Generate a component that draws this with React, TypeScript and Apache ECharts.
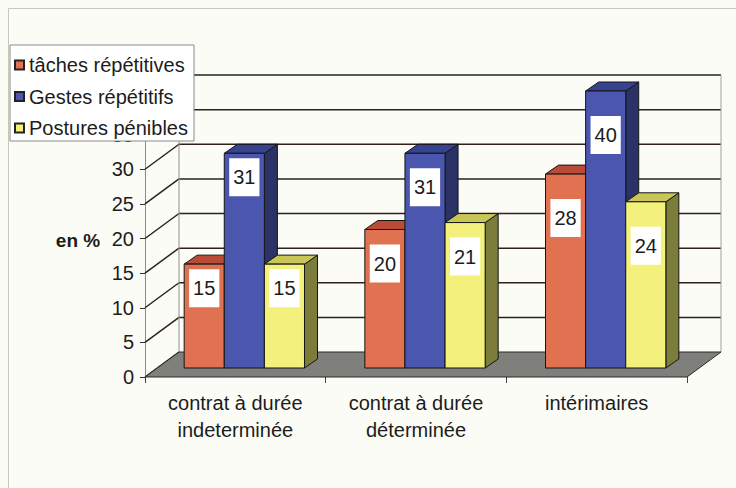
import React, { useEffect, useRef } from "react";
import * as echarts from "echarts";

const categories = ["contrat à durée\nindeterminée", "contrat à durée\ndéterminée", "intérimaires"];
const seriesNames = ["tâches répétitives", "Gestes répétitifs", "Postures pénibles"];
const tachesRepetitives = [15, 20, 28];
const gestesRepetitifs = [31, 31, 40];
const posturesPenibles = [15, 21, 24];
const yTicks = [0, 5, 10, 15, 20, 25, 30, 35, 40];

const FONT = "'Liberation Sans', Arial, sans-serif";
const TEXT = "#1c1c1c";
const GRID_COLOR = "#2e211c";
const WALL_DX = 34;
const WALL_DY = -25;
const BAR_DX = 9;
const BAR_DY = -9;
const DEPTH_DX = 13;
const DEPTH_DY = -9;
const BAR_FRAC = 0.222;
const LABEL_BASE = 24;
const LABEL_STEP = 10;

const palettes = [
  { front: "#e07252", top: "#b94b37", side: "#8a3525" },
  { front: "#4b56ae", top: "#38438f", side: "#2b3266" },
  { front: "#f3f17c", top: "#c8c657", side: "#7c7c3b" },
];

const makeBarRender = (s: number) => (params: any, api: any) => {
  const cat = api.value(0);
  const v = api.value(1);
  const base = api.coord([cat, 0]);
  const topP = api.coord([cat, v]);
  const band = api.size([1, 0])[0];
  const bw = band * BAR_FRAC;
  const left = base[0] + BAR_DX - 1.5 * bw + s * bw;
  const right = left + bw;
  const yb = base[1] + BAR_DY;
  const yt = topP[1] + BAR_DY;
  const pal = palettes[s];
  const st = { stroke: "#151515", lineWidth: 1 };
  return {
    type: "group",
    children: [
      {
        type: "polygon",
        shape: { points: [[right, yb], [right + DEPTH_DX, yb + DEPTH_DY], [right + DEPTH_DX, yt + DEPTH_DY], [right, yt]] },
        style: { fill: pal.side, ...st },
      },
      {
        type: "polygon",
        shape: { points: [[left, yt], [left + DEPTH_DX, yt + DEPTH_DY], [right + DEPTH_DX, yt + DEPTH_DY], [right, yt]] },
        style: { fill: pal.top, ...st },
      },
      {
        type: "rect",
        shape: { x: left, y: yt, width: bw, height: yb - yt },
        style: { fill: pal.front, ...st },
      },
      {
        type: "text",
        x: (left + right) / 2,
        y: yt + LABEL_BASE + LABEL_STEP * cat,
        style: {
          text: String(v),
          fill: TEXT,
          fontSize: 20,
          fontFamily: FONT,
          align: "center",
          verticalAlign: "middle",
          backgroundColor: "#ffffff",
          padding: [9, 4],
          lineHeight: 20,
        },
      },
    ],
  };
};

export default function App() {
  const ref = useRef<HTMLDivElement>(null);
  useEffect(() => {
    if (!ref.current) return;
    const chart = echarts.init(ref.current, undefined, { renderer: "svg" });
    const seriesData = [tachesRepetitives, gestesRepetitifs, posturesPenibles];
    const option: any = {
      animation: false,
      backgroundColor: "#fcfcf7",
      textStyle: { fontFamily: FONT },
      grid: { left: 145, top: 100, width: 542, height: 277 },
      legend: {
        data: seriesNames,
        orient: "vertical",
        left: 10,
        top: 45,
        padding: [10, 6, 3, 4],
        itemGap: 11.5,
        itemWidth: 9,
        itemHeight: 9,
        icon: "rect",
        backgroundColor: "#ffffff",
        borderColor: "#8a8a8a",
        borderWidth: 1,
        selectedMode: false,
        z: 10,
        textStyle: { fontSize: 20, color: TEXT, fontFamily: FONT, lineHeight: 20 },
      },
      xAxis: {
        type: "category",
        data: categories,
        axisLine: { show: false },
        axisTick: { show: true, length: 6, lineStyle: { color: "#444" } },
        axisLabel: { interval: 0, fontSize: 20, lineHeight: 27, color: TEXT, margin: 12 },
        splitLine: { show: false },
      },
      yAxis: {
        type: "value",
        min: 0,
        max: 40,
        interval: 5,
        axisLine: { show: true, lineStyle: { color: "#8c8c8c" } },
        axisTick: { show: true, length: 5, lineStyle: { color: "#333" } },
        axisLabel: {
          fontSize: 20,
          color: TEXT,
          margin: 11,
          formatter: (v: number) => (v === yTicks[yTicks.length - 1] ? "" : String(v)),
        },
        splitLine: { show: false },
      },
      graphic: [
        {
          type: "polyline",
          shape: { points: [[8.5, 488], [8.5, 8.5], [736, 8.5]] },
          style: { stroke: "#c9c9ba", lineWidth: 1, fill: null },
          z: 0,
        },
        {
          type: "text",
          x: 78,
          y: 240,
          style: { text: "en %", fontSize: 19, fontWeight: "bold", fontFamily: FONT, fill: TEXT, align: "center", verticalAlign: "middle" },
          z: 5,
        },
      ],
      series: [
        {
          type: "custom",
          name: "walls",
          clip: false,
          silent: true,
          z: 1,
          data: yTicks.map((t) => [0, t]),
          encode: { x: 0, y: 1 },
          renderItem: (params: any, api: any) => {
            const t = api.value(1);
            const cs = params.coordSys;
            const y = api.coord([0, t])[1];
            const x0 = cs.x;
            const x1 = cs.x + cs.width;
            const children: any[] = [
              { type: "line", shape: { x1: x0, y1: y, x2: x0 + WALL_DX, y2: y + WALL_DY }, style: { stroke: GRID_COLOR, lineWidth: 1.5 } },
            ];
            if (t > 0) {
              children.push({ type: "line", shape: { x1: x0 + WALL_DX, y1: y + WALL_DY, x2: x1 + WALL_DX, y2: y + WALL_DY }, style: { stroke: GRID_COLOR, lineWidth: 1.5 } });
            }
            return { type: "group", children };
          },
        },
        {
          type: "custom",
          name: "floor",
          clip: false,
          silent: true,
          z: 1,
          data: [[0, 0]],
          encode: { x: 0, y: 1 },
          renderItem: (params: any, api: any) => {
            const cs = params.coordSys;
            const y0 = api.coord([0, 0])[1];
            const yTop = api.coord([0, yTicks[yTicks.length - 1]])[1];
            const x0 = cs.x;
            const x1 = cs.x + cs.width;
            return {
              type: "group",
              children: [
                { type: "line", shape: { x1: x0 + WALL_DX, y1: y0 + WALL_DY, x2: x0 + WALL_DX, y2: yTop + WALL_DY }, style: { stroke: "#8f8f8f", lineWidth: 1 } },
                { type: "line", shape: { x1: x1 + WALL_DX, y1: y0 + WALL_DY, x2: x1 + WALL_DX, y2: yTop + WALL_DY }, style: { stroke: "#a0a0a0", lineWidth: 1 } },
                {
                  type: "polygon",
                  shape: { points: [[x0, y0], [x1, y0], [x1 + WALL_DX, y0 + WALL_DY], [x0 + WALL_DX, y0 + WALL_DY]] },
                  style: { fill: "#7f7f7c", stroke: "#2a2a2a", lineWidth: 1 },
                },
              ],
            };
          },
        },
        ...seriesData.map((vals, s) => ({
          type: "custom",
          name: seriesNames[s],
          clip: false,
          z: 2,
          itemStyle: { color: palettes[s].front, borderColor: "#222", borderWidth: 1 },
          data: vals.map((v, i) => [i, v]),
          encode: { x: 0, y: 1 },
          renderItem: makeBarRender(s),
        })),
      ],
    };
    chart.setOption(option);
    return () => chart.dispose();
  }, []);
  return <div ref={ref} style={{ position: "fixed", left: 0, top: 0, width: 736, height: 488 }} />;
}
